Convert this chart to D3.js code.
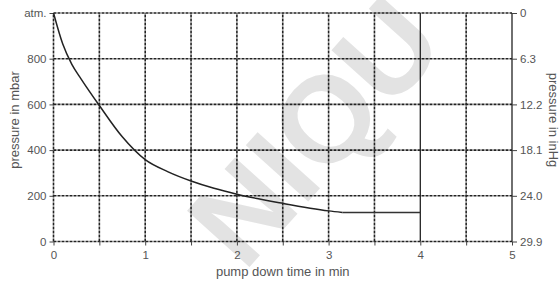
<!DOCTYPE html>
<html>
<head>
<meta charset="utf-8">
<script src="https://cdn.jsdelivr.net/npm/d3@7"></script>
<style>
  body { margin: 0; background: #fff; }
  svg { display: block; font-family: "Liberation Sans", Arial, sans-serif; }
  .tick text { fill: #555; font-size: 11.5px; }
  .tick line { stroke: #444; }
  .axis-title { fill: #555; font-size: 13px; }
</style>
</head>
<body>
<svg id="chart"></svg>
<script>
const width = 560;
const height = 285;

// pump down curve (min, mbar)
const times = [0, 0.1, 0.2, 0.3, 0.5, 0.75, 1, 1.25, 1.5, 1.75, 2, 2.5, 3, 3.15, 4];
const pressure = [1000, 865, 775, 712, 595, 458, 358, 305, 265, 233, 207, 167, 134, 127, 127];

const mbarTicks = [0, 200, 400, 600, 800, 1000];
const mbarLabels = ["0", "200", "400", "600", "800", "atm."];
const inHgLabels = ["29.9", "24.0", "18.1", "12.2", "6.3", "0"];
const timeTicks = [0, 1, 2, 3, 4, 5];
const gridTimes = [0.5, 1, 1.5, 2, 2.5, 3, 3.5, 4.5];

const svg = d3.select("#chart")
    .attr("width", width)
    .attr("height", height);

const xScale = d3.scaleLinear().domain([0, 5]).range([53.5, 512]);
const yScale = d3.scaleLinear().domain([0, 1000]).range([241.5, 13]);

// watermark
svg.append("text")
    .attr("transform", "translate(322,138) rotate(-48)")
    .attr("text-anchor", "middle")
    .attr("dominant-baseline", "middle")
    .style("font-size", "122px")
    .style("font-weight", "bold")
    .style("fill", "#e3e3e3")
    .text("NIQU");

// grid
const grid = svg.append("g");

grid.selectAll(".hgrid")
    .data(mbarTicks)
    .enter()
    .append("line")
    .attr("x1", xScale(0))
    .attr("x2", xScale(5))
    .attr("y1", d => yScale(d))
    .attr("y2", d => yScale(d))
    .attr("stroke", "#222")
    .attr("stroke-width", 1.6)
    .attr("stroke-dasharray", "3,1");

grid.selectAll(".vgrid")
    .data([0].concat(gridTimes))
    .enter()
    .append("line")
    .attr("x1", d => xScale(d))
    .attr("x2", d => xScale(d))
    .attr("y1", yScale(0))
    .attr("y2", yScale(1000))
    .attr("stroke", "#222")
    .attr("stroke-width", 1.6)
    .attr("stroke-dasharray", "3,1");

grid.selectAll(".vsolid")
    .data([4, 5])
    .enter()
    .append("line")
    .attr("x1", d => xScale(d))
    .attr("x2", d => xScale(d))
    .attr("y1", yScale(0))
    .attr("y2", yScale(1000))
    .attr("stroke", "#222")
    .attr("stroke-width", 1.3);

// axes
const xAxis = d3.axisBottom(xScale)
    .tickValues(d3.range(0, 5.01, 0.5))
    .tickSize(4)
    .tickFormat(d => timeTicks.includes(d) ? d : "");

const yAxis = d3.axisLeft(yScale)
    .tickValues(mbarTicks)
    .tickSize(4)
    .tickFormat((d, i) => mbarLabels[i]);

const yAxisRight = d3.axisRight(yScale)
    .tickValues(mbarTicks)
    .tickSize(5)
    .tickFormat((d, i) => inHgLabels[i]);

svg.append("g")
    .attr("transform", `translate(0, ${yScale(0)})`)
    .call(xAxis)
    .call(g => g.select(".domain").remove())
    .call(g => g.selectAll("text").attr("dy", "0.9em"));

svg.append("g")
    .attr("transform", `translate(${xScale(0)}, 0)`)
    .call(yAxis)
    .call(g => g.select(".domain").remove())
    .call(g => g.selectAll("text").attr("x", -7));

svg.append("g")
    .attr("transform", `translate(${xScale(5)}, 0)`)
    .call(yAxisRight)
    .call(g => g.select(".domain").remove())
    .call(g => g.selectAll("text").attr("x", 8));

svg.selectAll(".tick text").attr("font-family", null).attr("font-size", null);

// curve
const line = d3.line()
    .x(d => xScale(d[0]))
    .y(d => yScale(d[1]))
    .curve(d3.curveMonotoneX);

const curveData = times.map((t, i) => [t, pressure[i]]);

svg.append("path")
    .datum(curveData.slice(0, 14))
    .attr("d", line)
    .attr("fill", "none")
    .attr("stroke", "#222")
    .attr("stroke-width", 1.5);

svg.append("path")
    .datum(curveData.slice(13))
    .attr("d", d3.line().x(d => xScale(d[0])).y(d => yScale(d[1])))
    .attr("fill", "none")
    .attr("stroke", "#333")
    .attr("stroke-width", 1.3);

// titles
svg.append("text")
    .attr("class", "axis-title")
    .attr("text-anchor", "middle")
    .attr("x", (xScale(0) + xScale(5)) / 2)
    .attr("y", 276)
    .text("pump down time in min");

svg.append("text")
    .attr("class", "axis-title")
    .attr("text-anchor", "middle")
    .attr("transform", "translate(19,120) rotate(-90)")
    .text("pressure in mbar");

svg.append("text")
    .attr("class", "axis-title")
    .attr("text-anchor", "middle")
    .attr("transform", "translate(548.5,120) rotate(90)")
    .text("pressure in inHg");
</script>
</body>
</html>
